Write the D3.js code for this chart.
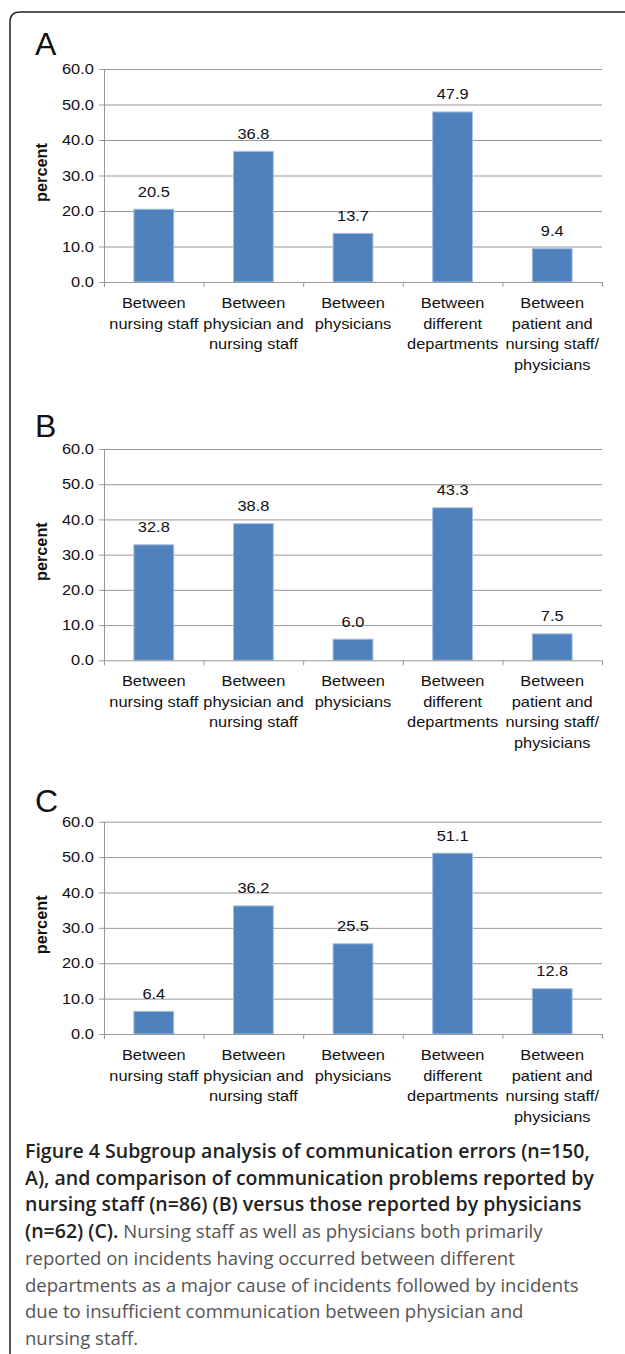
<!DOCTYPE html>
<html>
<head>
<meta charset="utf-8">
<script src="https://cdn.jsdelivr.net/npm/d3@7"></script>
<style>
  body { margin: 0; background: #fff; }
  svg { display: block; }
</style>
</head>
<body>
<svg id="chart"></svg>
<script>
const width = 625;
const height = 1354;

const categories = [
  ["Between", "nursing staff"],
  ["Between", "physician and", "nursing staff"],
  ["Between", "physicians"],
  ["Between", "different", "departments"],
  ["Between", "patient and", "nursing staff/", "physicians"]
];
const yTicks = [0, 10, 20, 30, 40, 50, 60];
const valuesA = [20.5, 36.8, 13.7, 47.9, 9.4];
const valuesB = [32.8, 38.8, 6.0, 43.3, 7.5];
const valuesC = [6.4, 36.2, 25.5, 51.1, 12.8];
const panelLetters = ["A", "B", "C"];
const yLabel = "percent";

const captionLines = [
  [["b", "Figure 4 Subgroup analysis of communication errors (n=150,"]],
  [["b", "A), and comparison of communication problems reported by"]],
  [["b", "nursing staff (n=86) (B) versus those reported by physicians"]],
  [["b", "(n=62) (C)."], ["r", " Nursing staff as well as physicians both primarily"]],
  [["r", "reported on incidents having occurred between different"]],
  [["r", "departments as a major cause of incidents followed by incidents"]],
  [["r", "due to insufficient communication between physician and"]],
  [["r", "nursing staff."]]
];

const svg = d3.select("#chart")
  .attr("width", width)
  .attr("height", height);

// frame: left + top edges with rounded corner
svg.append("path")
  .attr("d", `M10,${height} L10,22 Q10,12 20,12 L${width},12`)
  .attr("fill", "none")
  .attr("stroke", "#222")
  .attr("stroke-width", 1.5);

const font = "'Liberation Sans', Arial, Helvetica, sans-serif";
const fs = 14.5;
const sx = 1.13; // the original chart text is slightly stretched horizontally
const gridColor = "#999";
const barColor = "#4f81bd";

const left = 104, right = 602;
const panels = [
  { letter: panelLetters[0], values: valuesA, top: 69, bottom: 282, letterY: 55 },
  { letter: panelLetters[1], values: valuesB, top: 449, bottom: 660.3, letterY: 437 },
  { letter: panelLetters[2], values: valuesC, top: 821.7, bottom: 1034, letterY: 811.7 }
];

function stretchedText(g, x, y, str) {
  return g.append("text")
    .attr("transform", `translate(${x},${y}) scale(${sx},1)`)
    .attr("font-family", font)
    .attr("font-size", fs)
    .attr("fill", "#111")
    .attr("text-anchor", "middle")
    .text(str);
}

panels.forEach(p => {
  const g = svg.append("g");

  const yScale = d3.scaleLinear().domain([0, 60]).range([p.bottom, p.top]);
  const xBand = d3.scaleBand()
    .domain(d3.range(categories.length))
    .range([left, right])
    .paddingInner(0.6)
    .paddingOuter(0.3);
  const xLin = d3.scaleLinear().domain([0, categories.length]).range([left, right]);

  // panel letter
  g.append("text")
    .attr("x", 35)
    .attr("y", p.letterY)
    .attr("font-family", font)
    .attr("font-size", 32)
    .attr("fill", "#111")
    .text(p.letter);

  // gridlines
  g.append("g")
    .attr("transform", `translate(${left},0)`)
    .call(d3.axisLeft(yScale).tickValues(yTicks.slice(1)).tickSize(-(right - left)).tickFormat(""))
    .call(a => a.select(".domain").remove())
    .call(a => a.selectAll("line").attr("stroke", gridColor));

  // y axis
  g.append("g")
    .attr("transform", `translate(${left},0)`)
    .call(d3.axisLeft(yScale).tickValues(yTicks).tickSize(5).tickSizeOuter(0).tickPadding(4).tickFormat(d3.format(".1f")))
    .call(a => a.select(".domain").attr("stroke", gridColor))
    .call(a => a.selectAll("line").attr("stroke", gridColor))
    .call(a => a.selectAll("text")
      .attr("font-family", font)
      .attr("font-size", fs)
      .attr("fill", "#111")
      .attr("transform", `scale(${sx},1)`));

  // bars
  g.selectAll(".bar")
    .data(p.values)
    .enter()
    .append("rect")
    .attr("class", "bar")
    .attr("x", (d, i) => xBand(i))
    .attr("y", d => yScale(d))
    .attr("width", xBand.bandwidth())
    .attr("height", d => yScale(0) - yScale(d))
    .attr("fill", barColor)
    .attr("stroke", "#a7bfde")
    .attr("stroke-width", 1);

  // x axis with ticks at category boundaries
  g.append("g")
    .attr("transform", `translate(0,${p.bottom})`)
    .call(d3.axisBottom(xLin).tickValues(d3.range(categories.length + 1)).tickSize(5).tickSizeOuter(0).tickFormat(""))
    .call(a => a.select(".domain").attr("stroke", gridColor))
    .call(a => a.selectAll("line").attr("stroke", gridColor));

  // value labels
  p.values.forEach((v, i) => {
    stretchedText(g, xBand(i) + xBand.bandwidth() / 2, yScale(v) - 12.5, d3.format(".1f")(v));
  });

  // category labels
  categories.forEach((lines, i) => {
    lines.forEach((line, j) => {
      stretchedText(g, xBand(i) + xBand.bandwidth() / 2, p.bottom + 26 + j * 20.5, line);
    });
  });

  // y label
  g.append("text")
    .attr("transform", `translate(47,${(p.top + p.bottom) / 2 - 3}) rotate(-90)`)
    .attr("text-anchor", "middle")
    .attr("font-family", font)
    .attr("font-weight", "bold")
    .attr("font-size", 16.3)
    .attr("fill", "#111")
    .text(yLabel);
});

// caption
const capFont = "'Open Sans', 'Noto Sans', sans-serif";
const cap = svg.append("g");
const capTexts = captionLines.map((parts, i) => {
  const t = cap.append("text")
    .attr("x", 25)
    .attr("y", 1158 + i * 26.7)
    .attr("font-family", capFont)
    .attr("font-size", 20);
  parts.forEach(([w, s]) => {
    t.append("tspan")
      .attr("font-weight", w === "b" ? 600 : 400)
      .attr("fill", w === "b" ? "#222" : "#555")
      .text(s);
  });
  return t;
});
// fit caption to the measured line widths of the original
const boldW = capTexts[0].node().getComputedTextLength();
const regW = capTexts[5].node().getComputedTextLength();
const boldSize = 20 * 565 / boldW;
const regSize = 20 * 554 / regW;
cap.selectAll("tspan").attr("font-size", function() {
  return d3.select(this).attr("font-weight") == 600 ? boldSize : regSize;
});
</script>
</body>
</html>
